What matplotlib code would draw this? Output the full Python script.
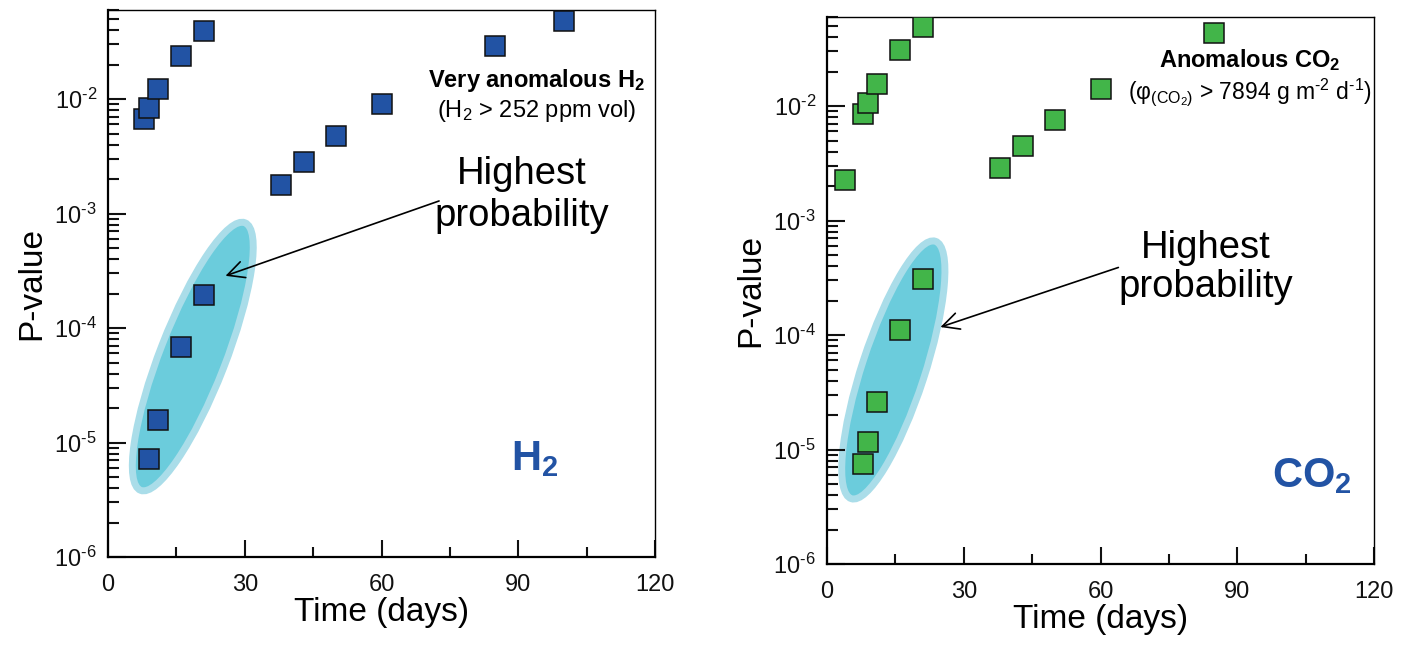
import numpy as np
import matplotlib
matplotlib.use('Agg')
import matplotlib.pyplot as plt
from matplotlib.patches import Ellipse
from matplotlib.ticker import FixedLocator, LogLocator, NullFormatter, FuncFormatter

plt.rcParams['font.family'] = ['Liberation Sans', 'DejaVu Sans']
plt.rcParams['mathtext.fontset'] = 'custom'
plt.rcParams['mathtext.rm'] = 'Liberation Sans'
plt.rcParams['mathtext.bf'] = 'Liberation Sans:bold'
plt.rcParams['mathtext.default'] = 'regular'

# data
h2_days = [8, 9, 11, 16, 21, 38, 43, 50, 60, 85, 100, 9, 11, 16, 21]
h2_p = [6.7e-3, 8.3e-3, 1.22e-2, 2.4e-2, 3.9e-2, 1.77e-3, 2.8e-3, 4.8e-3,
        9.1e-3, 2.9e-2, 4.8e-2, 7.2e-6, 1.58e-5, 6.8e-5, 1.94e-4]

co2_days = [4, 8, 9, 11, 16, 21, 38, 43, 50, 60, 85, 8, 9, 11, 16, 21]
co2_p = [2.25e-3, 8.5e-3, 1.06e-2, 1.56e-2, 3.06e-2, 4.9e-2, 2.88e-3, 4.5e-3,
         7.6e-3, 1.42e-2, 4.36e-2, 7.4e-6, 1.17e-5, 2.6e-5, 1.11e-4, 3.1e-4]

x_ticks = [0, 30, 60, 90, 120]
x_minor = [15, 45, 75, 105]
xmax = 120
ymin, ymax = 1e-6, 0.06

blue = '#2253A4'
green = '#42B549'
fill_in = '#6BCCDC'
fill_out = '#AADDE9'
HY = '\u2010'  # short hyphen used in the exponents

fig = plt.figure(figsize=(14.1, 6.48), dpi=100)
ax1 = fig.add_axes([108/1410, 1-557/648, 547/1410, 547/648])
ax2 = fig.add_axes([827/1410, 1-564/648, 547/1410, 547/648])


def to_axes(day, p):
    # data -> axes fraction (axes are square on the page)
    return day/xmax, (np.log10(p) - np.log10(ymin))/(np.log10(ymax) - np.log10(ymin))


def pow_label(v, pos):
    e = int(round(np.log10(v)))
    return '10$^{%s%d}$' % (HY if e < 0 else '', abs(e))


def setup(ax):
    ax.set_yscale('log')
    ax.set_xlim(0, xmax)
    ax.set_ylim(ymin, ymax)
    ax.xaxis.set_major_locator(FixedLocator(x_ticks))
    ax.xaxis.set_minor_locator(FixedLocator(x_minor))
    ax.yaxis.set_major_locator(LogLocator(base=10, numticks=10))
    ax.yaxis.set_minor_locator(LogLocator(base=10, subs=np.arange(2, 10), numticks=10))
    ax.yaxis.set_major_formatter(FuncFormatter(pow_label))
    ax.yaxis.set_minor_formatter(NullFormatter())
    ax.tick_params(which='both', direction='in', top=False, right=False,
                   width=1.5, labelsize=17, colors='#111111')
    ax.tick_params(axis='x', which='major', length=12, pad=12)
    ax.tick_params(axis='x', which='minor', length=7)
    ax.tick_params(axis='y', which='major', length=13, pad=8)
    ax.tick_params(axis='y', which='minor', length=8)
    for s in ['left', 'bottom']:
        ax.spines[s].set_linewidth(1.6)
    for s in ['top', 'right']:
        ax.spines[s].set_linewidth(1.0)
    ax.set_xlabel('Time (days)', fontsize=24, labelpad=1)
    ax.set_ylabel('P-value', fontsize=24, labelpad=5)


def blob(ax, day, p, length, width, angle):
    cx, cy = to_axes(day, p)
    e = Ellipse((cx, cy), length, width, angle=angle, transform=ax.transAxes,
                facecolor=fill_in, edgecolor=fill_out, linewidth=5, zorder=1)
    ax.add_patch(e)


# H2 panel
setup(ax1)
blob(ax1, 18.6, 10**-4.249, 0.525, 0.12, 68.7)
ax1.plot(h2_days, h2_p, 's', ms=14, mfc=blue, mec='#111111', mew=1.1, zorder=3)
ax1.annotate('', xy=(25.2, 10**-3.552), xytext=(73.2, 10**-2.882),
             arrowprops=dict(arrowstyle='->', color='black', lw=1.2,
                             mutation_scale=30))
ax1.text(90.8, 10**-2.838, 'Highest\nprobability', fontsize=27.5,
         ha='center', va='center', linespacing=1.2)
ax1.text(94.1, 10**-1.895, 'Very anomalous H$_2$', fontsize=17,
         fontweight='bold', ha='center', va='baseline')
ax1.text(94.1, 10**-2.157, '(H$_2$ > 252 ppm vol)', fontsize=17,
         ha='center', va='baseline')
ax1.text(88.4, 10**-5.24, 'H$_2$', fontsize=30, fontweight='bold',
         color=blue, ha='left', va='baseline')

# CO2 panel
setup(ax2)
blob(ax2, 14.55, 10**-4.305, 0.495, 0.115, 71.9)
ax2.plot(co2_days, co2_p, 's', ms=14, mfc=green, mec='#111111', mew=1.1, zorder=3)
ax2.annotate('', xy=(24.3, 10**-3.938), xytext=(64.5, 10**-3.402),
             arrowprops=dict(arrowstyle='->', color='black', lw=1.2,
                             mutation_scale=30))
ax2.text(83.1, 10**-3.41, 'Highest\nprobability', fontsize=27.5,
         ha='center', va='center', linespacing=1.1)
ax2.text(92.8, 10**-1.66, 'Anomalous CO$_2$', fontsize=17,
         fontweight='bold', ha='center', va='baseline')
ax2.text(92.8, 10**-1.94, '(φ$_{(CO_2)}$ > 7894 g m$^{%s2}$ d$^{%s1}$)' % (HY, HY),
         fontsize=16.5, ha='center', va='baseline')
ax2.text(97.6, 10**-5.326, 'CO$_2$', fontsize=30, fontweight='bold',
         color=blue, ha='left', va='baseline')

fig.savefig('out.png', dpi=100)
